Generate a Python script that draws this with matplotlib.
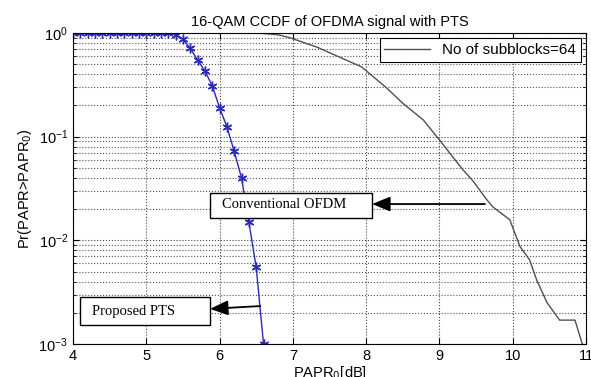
import numpy as np
import matplotlib.pyplot as plt
from matplotlib.patches import Rectangle
from matplotlib.ticker import LogLocator, NullFormatter

# Proposed PTS curve (blue, asterisk markers)
pts_x = [4.0, 4.1, 4.2, 4.3, 4.4, 4.5, 4.6, 4.7, 4.8, 4.9, 5.0, 5.1, 5.2, 5.3, 5.4,
         5.5, 5.6, 5.7, 5.8, 5.9, 6.0, 6.1, 6.2, 6.3, 6.4, 6.5, 6.6]
pts_y = [1.0, 1.0, 1.0, 1.0, 1.0, 1.0, 1.0, 1.0, 1.0, 1.0, 1.0, 1.0, 1.0, 0.99, 0.96,
         0.87, 0.71, 0.55, 0.43, 0.31, 0.19, 0.125, 0.072, 0.04, 0.015, 0.0055, 0.001]

# Conventional OFDM curve (black)
ofdm_x = [6.3, 6.6, 6.8, 6.96, 7.33, 7.94, 8.28, 8.5, 8.78, 9.0, 9.32, 9.45, 9.65,
          9.73, 9.96, 10.1, 10.23, 10.33, 10.47, 10.64, 10.85, 10.95]
ofdm_y = [1.0, 0.99, 0.96, 0.9, 0.73, 0.47, 0.295, 0.21, 0.145, 0.093, 0.048, 0.038,
          0.0245, 0.021, 0.0158, 0.0087, 0.0065, 0.0041, 0.0025, 0.0017, 0.0017, 0.001]

plt.rcParams['font.family'] = ['Liberation Sans', 'DejaVu Sans']

fig = plt.figure(figsize=(5.91, 3.77), dpi=100)
ax = fig.add_axes([0.1235, 0.0875, 0.868, 0.825])

ax.semilogy(ofdm_x, ofdm_y, color='#505050', lw=1.0, label='No of subblocks=64')
ax.semilogy(pts_x, pts_y, color='#2a2ab8', lw=1.0, marker=(6, 2, 0), ms=7, mew=1.0)

ax.set_xlim(4, 11)
ax.set_ylim(1e-3, 1)
ax.set_xticks(range(4, 12))
ax.yaxis.set_minor_locator(LogLocator(base=10, subs=np.arange(2, 10)))
ax.yaxis.set_minor_formatter(NullFormatter())
ax.tick_params(which='both', direction='in', top=True, right=True, labelsize=10.5)
ax.tick_params(which='major', length=4)
ax.tick_params(which='minor', length=2)
ax.grid(True, which='major', ls=':', color='#444444', lw=0.8)
ax.grid(True, which='minor', axis='y', ls=':', color='#555555', lw=0.8)

ax.set_title('16-QAM CCDF of OFDMA signal with PTS', fontsize=10.5, pad=5)
ax.set_xlabel('PAPR$_0$[dB]', fontsize=10.5, labelpad=1)
ax.set_ylabel('Pr(PAPR>PAPR$_0$)', fontsize=10.5, labelpad=3)

leg = ax.legend(loc='upper right', fontsize=11, fancybox=False, framealpha=1,
                edgecolor='black', handlelength=3.0, borderaxespad=0.35,
                borderpad=0.3)
leg.get_frame().set_linewidth(0.8)

# annotation boxes (axes fraction coordinates)
serif = ['Liberation Serif', 'DejaVu Serif']
ax.add_patch(Rectangle((0.267, 0.405), 0.316, 0.081, transform=ax.transAxes,
                       fc='white', ec='black', lw=1.0, zorder=5))
ax.text(0.29, 0.447, 'Conventional OFDM', transform=ax.transAxes, family=serif,
        fontsize=10.5, ha='left', va='center', zorder=6)
ax.add_patch(Rectangle((0.0136, 0.061), 0.253, 0.09, transform=ax.transAxes,
                       fc='white', ec='black', lw=1.0, zorder=5))
ax.text(0.037, 0.106, 'Proposed PTS', transform=ax.transAxes, family=serif,
        fontsize=10.5, ha='left', va='center', zorder=6)

arrow = dict(arrowstyle='-|>,head_length=1.1,head_width=0.45', color='black',
             lw=1.3, shrinkA=0, shrinkB=0)
ax.annotate('', xy=(0.583, 0.45), xytext=(0.803, 0.45), xycoords='axes fraction',
            arrowprops=arrow, zorder=6)
ax.annotate('', xy=(0.267, 0.113), xytext=(0.365, 0.122), xycoords='axes fraction',
            arrowprops=arrow, zorder=6)

fig.savefig('out.png', dpi=100)
